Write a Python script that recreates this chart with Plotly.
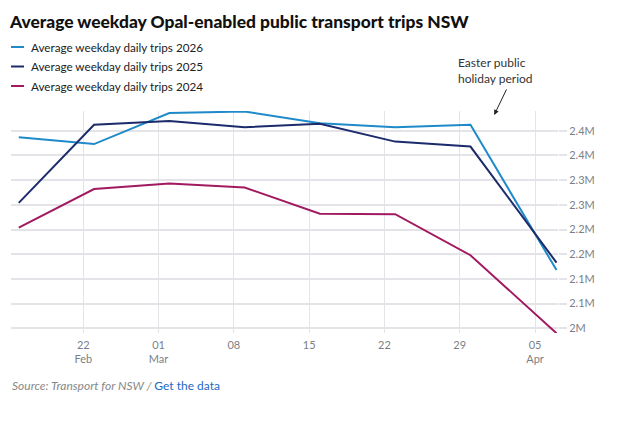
import plotly.graph_objects as go

# weekly data (week starting), values in millions of trips
dates = ["2026-02-16", "2026-02-23", "2026-03-02", "2026-03-09",
         "2026-03-16", "2026-03-23", "2026-03-30", "2026-04-07"]
trips_2026 = [2.387, 2.373, 2.436, 2.439, 2.415, 2.407, 2.412, 2.118]
trips_2025 = [2.254, 2.412, 2.420, 2.407, 2.414, 2.378, 2.368, 2.133]
trips_2024 = [2.204, 2.282, 2.293, 2.285, 2.232, 2.231, 2.148, 1.990]

series_names = ["Average weekday daily trips 2026",
                "Average weekday daily trips 2025",
                "Average weekday daily trips 2024"]
series_colors = ["#1f8ac9", "#1c2b6b", "#a11a60"]

x_tickvals = ["2026-02-22", "2026-03-01", "2026-03-08", "2026-03-15",
              "2026-03-22", "2026-03-29", "2026-04-05"]
x_ticktext = ["22<br>Feb", "01<br>Mar", "08", "15", "22", "29", "05<br>Apr"]
y_tickvals = [2.0, 2.05, 2.1, 2.15, 2.2, 2.25, 2.3, 2.35, 2.4]
y_ticktext = ["2M", "2.1M", "2.1M", "2.2M", "2.2M", "2.3M", "2.3M", "2.4M", "2.4M"]

# page body has an 8px margin, so the figure is drawn 8px in from the window
OFF = 8
W, H = 624 - OFF, 421 - OFF
L, R, T, B = 11 - OFF, 66, 111 - OFF, 88


def px(x):
    # window x pixel -> paper fraction
    return (x - OFF - L) / (W - L - R)


def py(y):
    # window y pixel -> paper fraction
    return (H - B - (y - OFF)) / (H - T - B)


fig = go.Figure()
for vals, name, col in zip([trips_2026, trips_2025, trips_2024], series_names, series_colors):
    fig.add_trace(go.Scatter(x=dates, y=vals, name=name, mode="lines",
                             line=dict(color=col, width=2), showlegend=False))

# hand-made legend
for i, (name, col) in enumerate(zip(series_names, series_colors)):
    yy = 47 + i * 19.5
    fig.add_shape(type="line", xref="paper", yref="paper",
                  x0=px(11), x1=px(24), y0=py(yy), y1=py(yy),
                  line=dict(color=col, width=2))
    fig.add_annotation(xref="paper", yref="paper", x=px(29), y=py(yy),
                       text=name, showarrow=False, xanchor="left", yanchor="middle",
                       font=dict(size=11.7, color="#222"))

fig.add_annotation(xref="paper", yref="paper", x=px(456), y=py(70),
                   text="Easter public<br>holiday period", showarrow=False,
                   xanchor="left", yanchor="middle", align="left",
                   font=dict(size=12, color="#333"))
fig.add_annotation(x="2026-04-01 05:00", y=2.432, text="", showarrow=True,
                   ax=13, ay=-27, arrowhead=2, arrowsize=1, arrowwidth=1,
                   arrowcolor="#222")

fig.add_annotation(xref="paper", yref="paper", x=px(10), y=py(385),
                   text="<i>Source: Transport for NSW / </i><span style='color:#2468c4'>Get the data</span>",
                   showarrow=False, xanchor="left", yanchor="middle",
                   font=dict(size=12, color="#888"))

fig.update_layout(
    width=W, height=H,
    margin=dict(l=L, r=R, t=T, b=B),
    paper_bgcolor="white",
    plot_bgcolor="white",
    font=dict(family="Lato, sans-serif", color="#777"),
    title=dict(text="Average weekday Opal-enabled public transport trips NSW",
               x=(10 - OFF) / W, xanchor="left",
               y=1 - (22 - OFF) / H, yanchor="middle",
               font=dict(size=17.4, color="#111", weight=900)),
)
fig.update_xaxes(range=["2026-02-15 06:40", "2026-04-07 03:20"],
                 tickvals=x_tickvals, ticktext=x_ticktext,
                 showgrid=True, gridcolor="#e4e4e8", gridwidth=1,
                 zeroline=False, showline=False, ticks="",
                 ticklabelstandoff=4,
                 tickfont=dict(size=11, color="#7a7f88"))
fig.update_yaxes(range=[1.9905, 2.44], side="right",
                 tickvals=y_tickvals, ticktext=y_ticktext,
                 showgrid=True, gridcolor="#e4e4e8", gridwidth=1.5,
                 zeroline=False, showline=False,
                 ticks="outside", ticklen=8, tickcolor="#e4e4e8", tickwidth=1.5,
                 tickfont=dict(size=11, color="#7a7f88"))

fig.write_html("out.html")
